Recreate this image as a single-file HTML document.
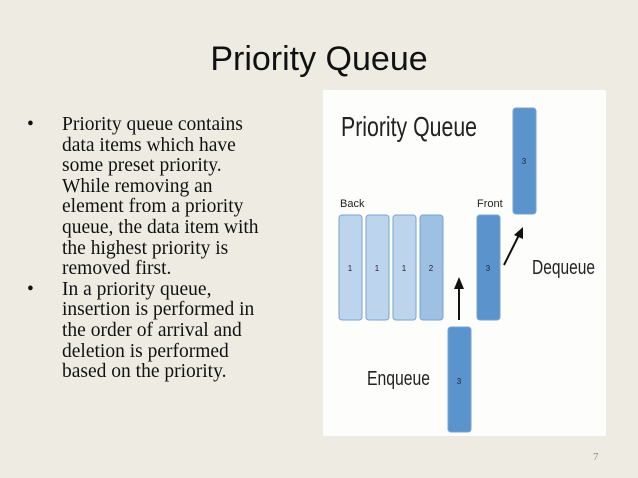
<!DOCTYPE html>
<html><head><style>
body{margin:0;width:638px;height:478px;background:#eeece2;position:relative;overflow:hidden;font-family:"Liberation Serif",serif}
.t{position:absolute;left:0;width:638px;top:40px;text-align:center;font:34px "Liberation Sans",sans-serif;color:#111}
.b{position:absolute;left:27px;font-size:19.5px;line-height:20.6px;color:#111}
.b div{position:relative;padding-left:35px}
.b div:before{content:"•";position:absolute;left:0}
.pg{position:absolute;left:593px;top:451px;font-size:11px;color:#888}
</style></head><body>
<div class="t">Priority Queue</div>
<div class="b" style="top:115px">
<div>Priority queue contains<br>data items which have<br>some preset priority.<br>While removing an<br>element from a priority<br>queue, the data item with<br>the highest priority is<br>removed first.</div>
<div>In a priority queue,<br>insertion is performed in<br>the order of arrival and<br>deletion is performed<br>based on the priority.</div>
</div>
<svg style="position:absolute;left:0;top:0" width="638" height="478">
<rect x="323" y="90" width="283" height="346" fill="#fdfdfb"/>
<g font-family="Liberation Sans Narrow, Liberation Sans, sans-serif" fill="#222">
<text x="341" y="136" font-size="28" textLength="136" lengthAdjust="spacingAndGlyphs">Priority Queue</text>
<text x="340" y="207" font-size="11">Back</text>
<text x="477" y="207" font-size="11">Front</text>
<text x="532" y="274" font-size="20" textLength="63" lengthAdjust="spacingAndGlyphs">Dequeue</text>
<text x="367" y="385" font-size="20" textLength="63" lengthAdjust="spacingAndGlyphs">Enqueue</text>
</g>
<g stroke="#7aa3cf" stroke-width="1">
<rect x="339" y="215" width="23" height="105" rx="3" fill="#bcd5ec"/>
<rect x="366" y="215" width="23" height="105" rx="3" fill="#bcd5ec"/>
<rect x="393" y="215" width="23" height="105" rx="3" fill="#bcd5ec"/>
<rect x="420" y="215" width="23" height="105" rx="3" fill="#9dc0e3"/>
<rect x="477" y="215" width="23" height="105" rx="3" fill="#5b93cc"/>
<rect x="513" y="108" width="23" height="106" rx="3" fill="#5b93cc"/>
<rect x="448" y="327" width="23" height="105" rx="3" fill="#5b93cc"/>
</g>
<g font-family="Liberation Sans, sans-serif" font-size="8" fill="#223" text-anchor="middle">
<text x="350" y="271">1</text><text x="377" y="271">1</text><text x="404" y="271">1</text><text x="431" y="271">2</text>
<text x="488" y="271">3</text><text x="524" y="164">3</text><text x="459" y="384">3</text>
</g>
<g stroke="#111" stroke-width="2" fill="#111">
<line x1="459" y1="320" x2="459" y2="286"/>
<polygon points="459,277 454,289 464,289" stroke="none"/>
<line x1="504" y1="265" x2="519" y2="235"/>
<polygon points="523,227 514,235 523,239" stroke="none"/>
</g>
</svg>
<div class="pg">7</div>
</body></html>
